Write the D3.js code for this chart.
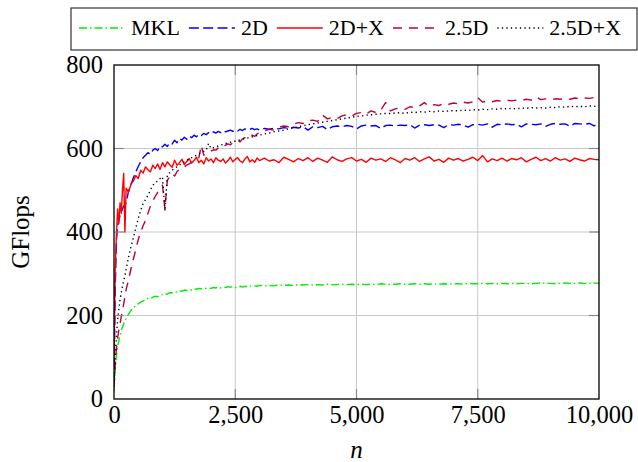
<!DOCTYPE html>
<html>
<head>
<meta charset="utf-8">
<script src="https://cdn.jsdelivr.net/npm/d3@7"></script>
<style>
  body { margin: 0; background: #fff; }
  svg { display: block; }
  text { font-family: "Liberation Serif", "Times New Roman", serif; fill: #000; }
</style>
</head>
<body>
<svg id="chart" width="638" height="462"></svg>
<script>
// Problem size n
const n = [
  0, 25, 50, 75, 100, 125, 150, 175, 200, 225, 250,
  300, 350, 400, 450, 500,
  550, 600, 650, 700, 750, 800, 850, 900, 950, 1000,
  1050, 1100, 1150, 1200, 1250, 1300, 1350, 1400, 1450, 1500,
  1550, 1600, 1650, 1700, 1750, 1800, 1850, 1900, 1950, 2000,
  2050, 2100, 2150, 2200, 2250, 2300, 2350, 2400, 2450, 2500,
  2550, 2600, 2650, 2700, 2750, 2800, 2850, 2900, 2950, 3000,
  3100, 3200, 3300, 3400, 3500, 3600, 3700, 3800, 3900, 4000,
  4100, 4200, 4300, 4400, 4500, 4600, 4700, 4800, 4900, 5000,
  5100, 5200, 5300, 5400, 5500, 5600, 5700, 5800, 5900, 6000,
  6100, 6200, 6300, 6400, 6500, 6600, 6700, 6800, 6900, 7000,
  7100, 7200, 7300, 7400, 7500, 7600, 7700, 7800, 7900, 8000,
  8100, 8200, 8300, 8400, 8500, 8600, 8700, 8800, 8900, 9000,
  9100, 9200, 9300, 9400, 9500, 9600, 9700, 9800, 9900, 10000
];

// GFlops per implementation
const mkl = [
  18, 70, 105, 125, 140, 152, 163, 172, 180, 187, 193,
  203, 212, 219, 224, 228,
  232, 235, 237, 241, 240, 244, 246, 245, 249, 250,
  252, 251, 255, 254, 257, 256, 259, 258, 261, 260,
  262, 261, 264, 263, 265, 264, 266, 265, 266, 265,
  267, 266, 268, 266, 268, 267, 269, 268, 269, 267,
  268, 270, 268, 270, 269, 271, 270, 271, 270, 272,
  271, 272, 271, 273, 272, 273, 272, 274, 273, 274,
  273, 274, 273, 275, 274, 274, 275, 274, 275, 274,
  275, 274, 275, 274, 276, 275, 274, 275, 276, 275,
  275, 276, 275, 276, 275, 276, 275, 276, 275, 276,
  276, 275, 277, 276, 276, 277, 276, 277, 276, 277,
  276, 277, 276, 277, 277, 276, 277, 278, 277, 277,
  276, 277, 278, 277, 277, 278, 277, 277, 278, 277
];

const gemm2d = [
  40, 260, 380, 415, 428, 440, 448, 455, 462, 466, 470,
  498, 514, 530, 544, 557,
  568, 578, 584, 590, 586, 596, 600, 595, 606, 604,
  610, 605, 614, 611, 620, 614, 624, 620, 627, 622,
  630, 626, 632, 628, 634, 631, 636, 633, 638, 635,
  640, 637, 641, 638, 643, 640, 642, 644, 641, 645,
  642, 646, 643, 647, 644, 646, 648, 645, 647, 644,
  648, 646, 649, 647, 650, 648, 651, 649, 652, 644,
  652, 650, 653, 645, 652, 654, 652, 655, 653, 647,
  654, 656, 654, 655, 648, 655, 656, 654, 656, 655,
  657, 649, 656, 657, 655, 657, 656, 650, 657, 656,
  658, 656, 651, 657, 658, 656, 659, 651, 658, 657,
  659, 657, 658, 652, 659, 658, 657, 659, 653, 658,
  660, 658, 659, 653, 660, 659, 658, 660, 654, 661
];

const gemm2dx = [
  95, 310, 395, 455, 420, 470, 445, 500, 540, 400, 505,
  495, 515, 522, 535, 528,
  548, 541, 556, 549, 544, 560, 552, 563, 550, 566,
  556, 568, 561, 555, 572, 560, 566, 574, 561, 569,
  576, 565, 571, 579, 566, 572, 563, 578, 570, 575,
  566, 578, 572, 569, 575, 565, 571, 579, 568, 574,
  578, 570, 566, 575, 581, 568, 573, 567, 577, 571,
  577, 570, 573, 566, 579, 574, 568, 576, 571, 578,
  569, 577, 572, 567, 580, 573, 569, 575, 578, 570,
  574, 567, 577, 572, 575, 569, 578, 573, 566, 576,
  572, 578, 569, 575, 580, 570, 574, 567, 577, 572,
  576, 570, 574, 579, 571, 583, 568, 575, 571, 577,
  570, 576, 573, 578, 568, 574, 579, 571, 576, 570,
  578, 572, 575, 569, 577, 573, 570, 576, 574, 573
];

const gemm25d = [
  30, 80, 120, 145, 165, 180, 198, 212, 228, 245, 262,
  285, 312, 335, 358, 382,
  400, 415, 428, 445, 462, 475, 485, 495, 503, 512,
  455, 524, 532, 540, 534, 545, 550, 553, 556, 560,
  563, 567, 570, 574, 578, 608, 584, 588, 591, 594,
  597, 596, 602, 605, 603, 608, 611, 609, 614, 617,
  619, 616, 623, 626, 624, 630, 632, 629, 635, 638,
  642, 646, 644, 651, 654, 652, 658, 662, 660, 666,
  668, 665, 680, 671, 674, 672, 678, 681, 678, 684,
  686, 683, 690, 686, 692, 710, 690, 695, 697, 694,
  700, 698, 702, 710, 701, 705, 703, 708, 706, 709,
  707, 711, 709, 712, 722, 711, 714, 712, 715, 713,
  716, 714, 716, 715, 718, 716, 724, 717, 719, 717,
  719, 718, 720, 718, 721, 719, 721, 720, 722, 721
];

const gemm25dx = [
  30, 100, 150, 190, 215, 238, 255, 270, 283, 295, 310,
  340, 365, 386, 410, 432,
  452, 468, 478, 488, 500, 512, 518, 522, 528, 532,
  450, 536, 542, 548, 553, 556, 560, 565, 568, 572,
  575, 578, 581, 584, 587, 590, 593, 596, 612, 600,
  602, 604, 606, 608, 610, 612, 613, 615, 616, 618,
  619, 621, 622, 624, 625, 627, 628, 629, 631, 632,
  635, 637, 640, 642, 644, 647, 649, 652, 655, 657,
  659, 661, 663, 665, 667, 669, 671, 673, 675, 677,
  678, 680, 681, 682, 683, 684, 684, 685, 686, 684,
  687, 686, 688, 687, 689, 688, 690, 689, 690, 691,
  690, 692, 691, 693, 692, 694, 693, 695, 694, 696,
  695, 696, 695, 697, 696, 698, 697, 698, 697, 699,
  698, 700, 699, 701, 700, 701, 700, 702, 701, 703
];

const seriesNames = ["MKL", "2D", "2D+X", "2.5D", "2.5D+X"];
const seriesValues = [mkl, gemm2d, gemm2dx, gemm25d, gemm25dx];

const xTicks = [0, 2500, 5000, 7500, 10000];
const yTicks = [0, 200, 400, 600, 800];

// Line styles (pgfplots-like)
const styles = [
  { color: "#00ee00", dash: "8,3,1.5,3" },
  { color: "#0000ff", dash: "10,4.3" },
  { color: "#ff0000", dash: null },
  { color: "#bf0040", dash: "9,7" },
  { color: "#000000", dash: "1.3,3.2" }
];

const svg = d3.select("#chart");
const plot = { left: 114, right: 599, top: 65, bottom: 399 };

const x = d3.scaleLinear().domain([0, 10000]).range([plot.left, plot.right]);
const y = d3.scaleLinear().domain([0, 800]).range([plot.bottom, plot.top]);

// Grid
const grid = svg.append("g").attr("stroke", "#c8c8c8").attr("stroke-width", 1);
grid.selectAll("line.gx").data(xTicks.slice(1, -1)).join("line")
  .attr("x1", d => x(d)).attr("x2", d => x(d))
  .attr("y1", plot.top).attr("y2", plot.bottom);
grid.selectAll("line.gy").data(yTicks.slice(1, -1)).join("line")
  .attr("x1", plot.left).attr("x2", plot.right)
  .attr("y1", d => y(d)).attr("y2", d => y(d));

// Data lines
svg.append("clipPath").attr("id", "clip")
  .append("rect")
  .attr("x", plot.left).attr("y", plot.top)
  .attr("width", plot.right - plot.left).attr("height", plot.bottom - plot.top);

const line = d3.line().x(d => x(d[0])).y(d => y(d[1]));
const lines = svg.append("g").attr("clip-path", "url(#clip)");
seriesValues.forEach((vals, i) => {
  const pts = n.map((v, k) => [v, vals[k]]);
  lines.append("path")
    .datum(pts)
    .attr("d", line)
    .attr("fill", "none")
    .attr("stroke", styles[i].color)
    .attr("stroke-width", 1.4)
    .attr("stroke-linejoin", "round")
    .attr("stroke-dasharray", styles[i].dash);
});

// Inner ticks on all four sides
const tickLen = 10;
const ticks = svg.append("g").attr("stroke", "#8a8a8a").attr("stroke-width", 1.2);
xTicks.slice(1, -1).forEach(d => {
  ticks.append("line").attr("x1", x(d)).attr("x2", x(d)).attr("y1", plot.bottom).attr("y2", plot.bottom - tickLen);
  ticks.append("line").attr("x1", x(d)).attr("x2", x(d)).attr("y1", plot.top).attr("y2", plot.top + tickLen);
});
yTicks.slice(1, -1).forEach(d => {
  ticks.append("line").attr("x1", plot.left).attr("x2", plot.left + tickLen).attr("y1", y(d)).attr("y2", y(d));
  ticks.append("line").attr("x1", plot.right).attr("x2", plot.right - tickLen).attr("y1", y(d)).attr("y2", y(d));
});

// Frame
svg.append("rect")
  .attr("x", plot.left).attr("y", plot.top)
  .attr("width", plot.right - plot.left).attr("height", plot.bottom - plot.top)
  .attr("fill", "none").attr("stroke", "#000").attr("stroke-width", 1.3);

// Axes labels via d3 axes
const xAxis = svg.append("g")
  .attr("transform", `translate(0,${plot.bottom})`)
  .call(d3.axisBottom(x).tickValues(xTicks).tickFormat(d3.format(",")).tickSize(0).tickPadding(7));
const yAxis = svg.append("g")
  .attr("transform", `translate(${plot.left},0)`)
  .call(d3.axisLeft(y).tickValues(yTicks).tickFormat(d3.format("d")).tickSize(0).tickPadding(11));
[xAxis, yAxis].forEach(a => {
  a.select(".domain").remove();
  a.selectAll("text").attr("font-family", "Liberation Serif, serif").attr("font-size", 24.5).attr("fill", "#000");
});

svg.append("text")
  .attr("x", (plot.left + plot.right) / 2).attr("y", 458)
  .attr("text-anchor", "middle").attr("font-size", 25).attr("font-style", "italic")
  .text("n");

svg.append("text")
  .attr("transform", `translate(29,232) rotate(-90)`)
  .attr("text-anchor", "middle").attr("font-size", 25)
  .text("GFlops");

// Legend
const legend = svg.append("g");
const legendBox = legend.append("rect")
  .attr("fill", "#fff").attr("stroke", "#333").attr("stroke-width", 1.2);
let cx = 79;
const sampleLen = 46, sampleY = 28, textBase = 35;
seriesNames.forEach((name, i) => {
  legend.append("line")
    .attr("x1", cx).attr("x2", cx + sampleLen)
    .attr("y1", sampleY).attr("y2", sampleY)
    .attr("stroke", styles[i].color).attr("stroke-width", 1.4)
    .attr("stroke-dasharray", styles[i].dash);
  const t = legend.append("text")
    .attr("x", cx + sampleLen + 6).attr("y", textBase)
    .attr("font-size", 22).text(name);
  cx += sampleLen + 6 + t.node().getComputedTextLength() + 9;
});
legendBox.attr("x", 71).attr("y", 8).attr("width", Math.max(cx - 71, 566)).attr("height", 42);
</script>
</body>
</html>
